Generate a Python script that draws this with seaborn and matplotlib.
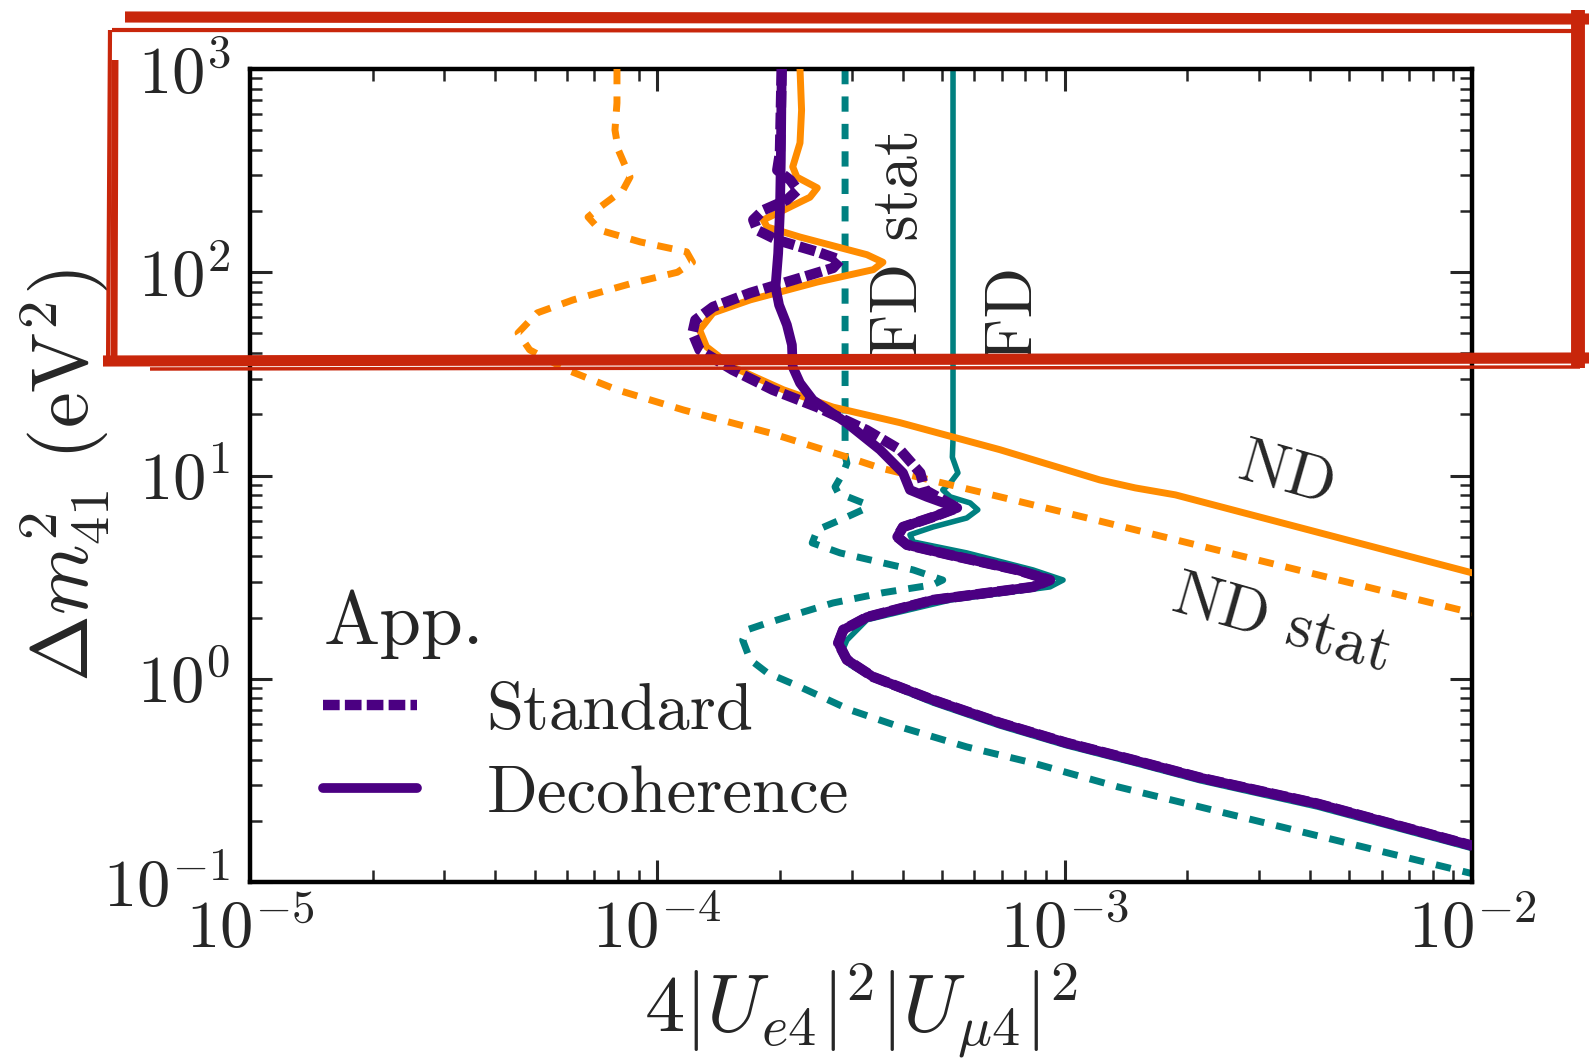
import numpy as np
import pandas as pd
import matplotlib
matplotlib.use("Agg")
import matplotlib.pyplot as plt
import seaborn as sns
from matplotlib.lines import Line2D
from matplotlib.ticker import LogLocator, FuncFormatter, NullFormatter

# --- curves (x = 4|Ue4|^2|Umu4|^2, y = dm41^2 in eV^2) ---

# appearance, decoherence (purple solid)
dec_x = [2.02e-4, 2.01e-4, 2.00e-4, 1.98e-4, 1.95e-4, 1.99e-4, 2.08e-4, 2.14e-4, 2.15e-4, 2.24e-4,
         2.41e-4, 2.92e-4, 3.52e-4, 4.01e-4, 4.17e-4, 4.59e-4, 5.45e-4, 4.75e-4, 4.01e-4, 3.88e-4,
         4.10e-4, 5.24e-4, 7.64e-4, 9.20e-4, 8.36e-4, 4.75e-4, 3.27e-4, 2.86e-4, 2.78e-4, 2.92e-4,
         3.39e-4, 4.75e-4, 6.93e-4, 1.01e-3, 1.47e-3, 2.15e-3, 4.17e-3, 1.0e-2]
dec_y = [1000, 356, 202, 124, 84.7, 69.0, 55.1, 43.9, 34.2, 28.5,
         23.5, 18.1, 13.4, 10.3, 8.49, 7.85, 6.93, 6.25, 5.58, 4.99,
         4.56, 4.06, 3.43, 3.06, 2.83, 2.44, 2.01, 1.74, 1.50, 1.24,
         1.02, 0.787, 0.607, 0.484, 0.399, 0.326, 0.243, 0.151]

# appearance, standard (purple dashed)
std_x = [2.02e-4, 2.00e-4, 1.97e-4, 2.12e-4, 2.21e-4, 2.08e-4, 1.82e-4, 1.72e-4, 1.76e-4, 1.97e-4,
         2.47e-4, 2.81e-4, 2.70e-4, 2.24e-4, 1.69e-4, 1.37e-4, 1.24e-4, 1.22e-4, 1.27e-4, 1.53e-4,
         1.92e-4, 2.47e-4, 3.27e-4, 3.94e-4, 4.42e-4, 4.54e-4, 5.45e-4, 4.75e-4, 4.01e-4, 3.88e-4,
         4.10e-4, 5.24e-4, 7.64e-4, 9.20e-4, 8.36e-4, 4.75e-4, 3.27e-4, 2.86e-4, 2.78e-4, 2.92e-4,
         3.39e-4, 4.75e-4, 6.93e-4, 1.01e-3, 1.47e-3, 2.15e-3, 4.17e-3, 1.0e-2]
std_y = [1000, 386, 318, 284, 254, 227, 202, 181, 161, 144,
         126, 115, 105, 93.7, 79.1, 67.5, 58.2, 50.3, 41.5, 33.1,
         26.4, 21.7, 16.7, 13.4, 10.3, 8.49, 6.93, 6.25, 5.58, 4.99,
         4.56, 4.06, 3.43, 3.06, 2.83, 2.44, 2.01, 1.74, 1.50, 1.24,
         1.02, 0.787, 0.607, 0.484, 0.399, 0.326, 0.243, 0.151]

# ND (orange solid)
nd_x = [2.24e-4, 2.26e-4, 2.24e-4, 2.15e-4, 2.20e-4, 2.47e-4, 2.37e-4, 2.04e-4, 1.82e-4, 1.86e-4,
        2.24e-4, 3.27e-4, 3.58e-4, 3.39e-4, 2.47e-4, 1.69e-4, 1.37e-4, 1.27e-4, 1.32e-4, 1.53e-4,
        2.04e-4, 2.70e-4, 3.94e-4, 6.93e-4, 1.22e-3, 1.49e-3, 1.87e-3, 1.0e-2]
nd_y = [1000, 628, 433, 330, 294, 260, 234, 202, 181, 167,
        149, 122, 112, 103, 89.5, 73.1, 63.1, 52.0, 43.0, 34.2,
        26.4, 21.7, 18.2, 13.4, 9.51, 8.69, 8.03, 3.32]

# ND stat (orange dashed)
ndstat_x = [7.96e-5, 7.96e-5, 7.87e-5, 8.02e-5, 8.57e-5, 8.24e-5, 7.23e-5, 6.76e-5, 7.23e-5, 9.08e-5,
            1.18e-4, 1.22e-4, 1.12e-4, 8.71e-5, 6.21e-5, 5.07e-5, 4.55e-5, 4.86e-5, 6.00e-5, 7.96e-5,
            1.16e-4, 1.89e-4, 2.97e-4, 3.52e-4, 6.19e-4, 1.11e-3, 1.0e-2]
ndstat_y = [1000, 681, 501, 400, 294, 254, 209, 187, 161, 141,
            126, 112, 100, 88.5, 73.1, 63.1, 50.3, 41.5, 33.1, 26.4,
            21.0, 16.2, 12.2, 10.9, 8.30, 6.25, 2.11]

# FD (teal solid)
fd_x = [5.32e-4, 5.32e-4, 5.30e-4, 5.47e-4, 5.24e-4, 5.02e-4, 5.24e-4, 5.86e-4, 6.12e-4, 5.75e-4,
        4.75e-4, 4.17e-4, 4.25e-4, 5.75e-4, 8.36e-4, 9.91e-4, 9.20e-4, 5.24e-4, 3.27e-4, 2.92e-4,
        2.84e-4, 2.97e-4, 3.44e-4, 4.75e-4, 6.93e-4, 1.01e-3, 1.47e-3, 2.15e-3, 4.17e-3, 1.0e-2]
fd_y = [1000, 15.0, 12.3, 10.3, 9.20, 8.49, 7.85, 7.33, 6.78, 6.18,
        5.58, 5.11, 4.71, 4.16, 3.43, 3.06, 2.83, 2.44, 1.95, 1.55,
        1.36, 1.17, 0.988, 0.760, 0.586, 0.468, 0.386, 0.315, 0.234, 0.146]

# FD stat (teal dashed)
fdstat_x = [2.89e-4, 2.89e-4, 2.92e-4, 2.86e-4, 2.73e-4, 2.78e-4, 3.20e-4, 3.27e-4, 2.92e-4, 2.47e-4,
            2.40e-4, 2.81e-4, 4.25e-4, 5.02e-4, 4.75e-4, 3.58e-4, 2.70e-4, 1.86e-4, 1.66e-4, 1.62e-4,
            1.69e-4, 1.86e-4, 2.24e-4, 2.97e-4, 3.94e-4, 5.75e-4, 8.36e-4, 1.35e-3, 2.15e-3, 1.0e-2]
fdstat_y = [1000, 12.6, 11.5, 10.3, 8.79, 8.20, 7.33, 6.93, 6.25, 5.40,
            4.66, 4.16, 3.43, 3.06, 2.90, 2.65, 2.36, 1.88, 1.74, 1.55,
            1.24, 1.07, 0.912, 0.703, 0.580, 0.462, 0.385, 0.294, 0.234, 0.110]

x_ticks = [1e-5, 1e-4, 1e-3, 1e-2]
y_ticks = [1e-1, 1e0, 1e1, 1e2, 1e3]

ORANGE = "#ff8c00"
TEAL = "#008080"
PURPLE = "#4b0082"
RED = "#c8260b"

sns.set_style("ticks")
plt.rcParams["mathtext.fontset"] = "cm"
plt.rcParams["font.family"] = ["cmr10", "DejaVu Serif"]
plt.rcParams["axes.unicode_minus"] = False

W, H = 1589, 1060
fig = plt.figure(figsize=(W / 100, H / 100), dpi=100)
ax = fig.add_axes([250 / W, 1 - 882 / H, 1222 / W, 813 / H])

DASH = (0, (2.2, 1.75))
STD_DASH = (0, (1.6, 0.5))

def curve(xs, ys, color, lw, ls, z):
    df = pd.DataFrame({"x": xs, "y": ys})
    sns.lineplot(data=df, x="x", y="y", sort=False, estimator=None, ax=ax, color=color,
                 lw=lw, linestyle=ls, zorder=z, legend=False,
                 solid_joinstyle="round", dash_joinstyle="round")

curve(fd_x, fd_y, TEAL, 4.0, "-", 2)
curve(fdstat_x, fdstat_y, TEAL, 5.0, DASH, 2)
curve(ndstat_x, ndstat_y, ORANGE, 5.0, DASH, 3)
curve(nd_x, nd_y, ORANGE, 5.0, "-", 3)
curve(dec_x, dec_y, PURPLE, 7.0, "-", 4)
curve(std_x, std_y, PURPLE, 7.5, STD_DASH, 5)

ax.set_xscale("log")
ax.set_yscale("log")
ax.set_xlim(1e-5, 1e-2)
ax.set_ylim(1e-1, 1e3)
ax.set_xticks(x_ticks)
ax.set_yticks(y_ticks)
ax.xaxis.set_minor_locator(LogLocator(base=10, subs=np.arange(2, 10)))
ax.yaxis.set_minor_locator(LogLocator(base=10, subs=np.arange(2, 10)))
ax.xaxis.set_minor_formatter(NullFormatter())
ax.yaxis.set_minor_formatter(NullFormatter())
fmt = FuncFormatter(lambda v, _: r"$10^{%d}$" % round(np.log10(v)))
ax.xaxis.set_major_formatter(fmt)
ax.yaxis.set_major_formatter(fmt)

ax.tick_params(which="both", direction="in", top=True, right=True)
ax.tick_params(which="major", length=16, width=2.2, labelsize=48)
ax.tick_params(axis="x", which="major", pad=12)
ax.tick_params(axis="y", which="major", pad=14)
ax.tick_params(which="minor", length=8.5, width=1.8)
for sp in ax.spines.values():
    sp.set_linewidth(3.2)
    sp.set_color("black")

ax.set_xlabel(r"$4|U_{e4}|^2|U_{\mu4}|^2$", fontsize=58, labelpad=0)
ax.set_ylabel(r"$\Delta m^2_{41}\ (\mathrm{eV}^2)$", fontsize=58, labelpad=-6)

# curve labels
ax.text(3.95e-4, 139, "FD stat", rotation=90, fontsize=48, ha="center", va="center")
ax.text(7.46e-4, 63.8, "FD", rotation=90, fontsize=48, ha="center", va="center")
ax.text(3.52e-3, 9.95, "ND", rotation=-16, fontsize=46, ha="center", va="center",
        rotation_mode="anchor")
ax.text(3.42e-3, 1.84, "ND stat", rotation=-16, fontsize=46, ha="center", va="center",
        rotation_mode="anchor")

handles = [Line2D([], [], color=PURPLE, lw=7.5, linestyle=STD_DASH),
           Line2D([], [], color=PURPLE, lw=7.0)]
leg = ax.legend(handles, ["Standard", "Decoherence"], title="App.", loc="upper left",
                bbox_to_anchor=(0.06, 0.36), frameon=False, alignment="left",
                prop={"size": 48}, title_fontproperties={"size": 54},
                handlelength=1.4, handletextpad=1.05, labelspacing=0.35,
                borderpad=0, borderaxespad=0)

# red highlight box drawn on top of the figure (figure pixel coords)
def stroke(p0, p1, lw):
    fig.add_artist(Line2D([p0[0] / W, p1[0] / W], [1 - p0[1] / H, 1 - p1[1] / H],
                          transform=fig.transFigure, color=RED, lw=lw,
                          solid_capstyle="butt", zorder=10))

stroke((125, 17), (1589, 19), 8)
stroke((112, 30), (1572, 31), 3)
stroke((110, 30), (108, 366), 3)
stroke((115, 60), (114, 362), 5)
stroke((103, 361), (1589, 358), 8)
stroke((150, 369), (1580, 367), 2.5)
stroke((1578, 10), (1578, 368), 10)

fig.savefig("out.png", dpi=100)
